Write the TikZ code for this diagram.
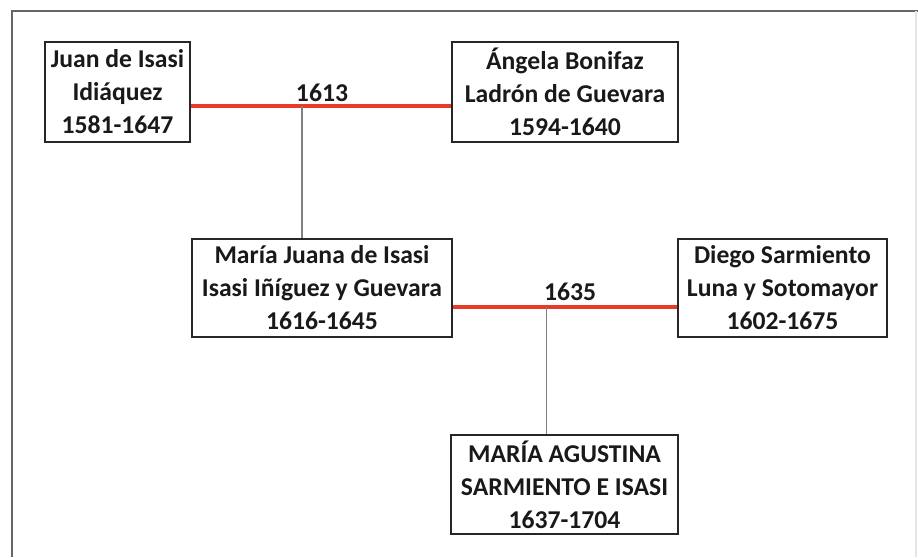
\documentclass[tikz,border=0pt]{standalone}
\usepackage{fontspec}
\setmainfont{Carlito}
\definecolor{weddingred}{RGB}{232,58,40}
\begin{document}
\begin{tikzpicture}[
    person/.style={draw=black!85, line width=1pt, align=center, inner sep=0pt,
                   font=\bfseries\fontsize{14.6}{18.8}\selectfont, text=black!90},
    marriage/.style={draw=weddingred, line width=2.8pt},
    descent/.style={draw=black!50, line width=0.8pt},
    year/.style={font=\bfseries\fontsize{14.6}{18}\selectfont, text=black!90}
]

    % Page size and grey frame
    \useasboundingbox (0,0) rectangle (18.36,-11.14);
    \draw[black!60, line width=1.3pt] (0.24,-11.14) -- (0.24,-0.22) -- (18.36,-0.22);
    \draw[black!10, line width=0.6pt] (18.32,-0.22) -- (18.32,-11.14);

    % Generation 1
    \node[person, minimum width=2.9cm, minimum height=2.0cm] (juan) at (2.35,-1.84)
        {Juan de Isasi\\Idiáquez\\1581-1647};
    \node[person, minimum width=4.52cm, minimum height=2.0cm] (angela) at (11.30,-1.84)
        {Ángela Bonifaz\\Ladrón de Guevara\\1594-1640};

    % Generation 2
    \node[person, minimum width=5.2cm, minimum height=1.96cm] (mjuana) at (6.44,-5.76)
        {María Juana de Isasi\\Isasi Iñíguez y Guevara\\1616-1645};
    \node[person, minimum width=4.18cm, minimum height=1.96cm] (diego) at (15.65,-5.76)
        {Diego Sarmiento\\Luna y Sotomayor\\1602-1675};

    % Generation 3
    \node[person, minimum width=4.54cm, minimum height=1.98cm] (agustina) at (11.29,-9.69)
        {MARÍA AGUSTINA\\SARMIENTO E ISASI\\1637-1704};

    % Marriage 1613 and its child
    \coordinate (m1) at (6.04,-2.12);
    \draw[marriage] (juan.east |- m1) -- (angela.west |- m1);
    \node[year] (y1613) at (6.44,-1.85) {1613};
    \draw[descent] (m1) -- (m1 |- mjuana.north);

    % Marriage 1635 and its child
    \coordinate (m2) at (10.93,-6.14);
    \draw[marriage] (mjuana.east |- m2) -- (diego.west |- m2);
    \node[year] (y1635) at (11.40,-5.84) {1635};
    \draw[descent] (m2) -- (m2 |- agustina.north);

\end{tikzpicture}
\end{document}
